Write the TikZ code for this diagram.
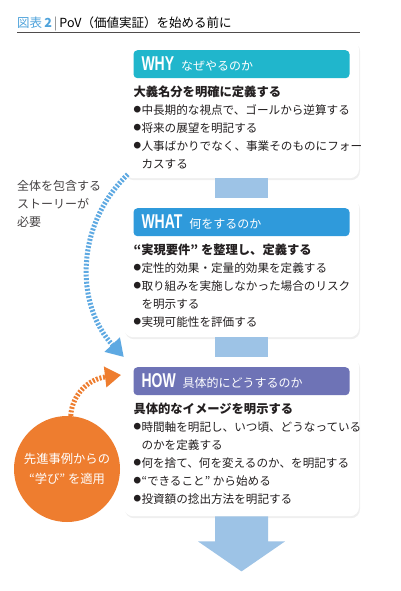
\documentclass[tikz,border=0pt]{standalone}
\usepackage{fontspec}
\setmainfont{Noto Sans CJK JP}
\newfontfamily\hdfont{Liberation Sans Bold}[FakeStretch=0.7]
\usetikzlibrary{arrows.meta,positioning,calc,shadows}

\definecolor{titleblue}{HTML}{4FA3DB}
\definecolor{whyteal}{HTML}{20B6CC}
\definecolor{whatblue}{HTML}{2F9ADB}
\definecolor{howpurple}{HTML}{6E73B6}
\definecolor{flowblue}{HTML}{9DC3E6}
\definecolor{storyblue}{HTML}{5EA9E2}
\definecolor{learnorange}{HTML}{EE7D2F}
\definecolor{textdark}{HTML}{231F20}

\newcommand\itemdot{\raisebox{1.4pt}{\fontsize{7.5}{7}\selectfont ●}\hspace{0.5pt}}
\newcommand\headline[2]{{\hdfont\fontsize{20}{20}\selectfont #1}\hspace{7pt}{\fontsize{12}{14}\selectfont #2}}

\begin{document}
\begin{tikzpicture}[x=1pt, y=-1pt,
  card/.style={fill=white, rounded corners=9pt, minimum width=235pt,
    anchor=north, drop shadow={shadow xshift=1pt, shadow yshift=-2pt, opacity=0.12}},
  headbar/.style={rounded corners=4pt, minimum width=216pt, minimum height=28pt,
    text width=200pt, inner xsep=8pt, align=left, text=white, anchor=north},
  bodytext/.style={anchor=north west, inner sep=0pt, align=left, text=textdark,
    font=\fontsize{11.6}{18}\selectfont},
  stripes/.style={line width=5pt, dash pattern=on 2pt off 1.6pt}
]
\fill[white] (0,0) rectangle (400,591);
\useasboundingbox (0,0) rectangle (400,591);

% title
\node[anchor=base west, inner sep=0pt, font=\fontsize{12.5}{14}\selectfont] (title) at (17,28)
  {{\color{titleblue}図表\,\textbf{2}}\,{\color{gray}|}\,PoV（価値実証）を始める前に};
\draw[textdark!80, line width=0.8pt] (17,32) -- (360,32);

% cards
\node[card, minimum height=138pt] (whycard) at (241.5,40) {};
\node[card, minimum height=139pt] (whatcard) at (241.5,198) {};
\node[card, minimum height=159pt] (howcard) at (241.5,357) {};

% flow between cards
\fill[flowblue] ($(whycard.south)+(-26.5,0)$) rectangle ($(whatcard.north)+(26.5,0)$);
\fill[flowblue] ($(whatcard.south)+(-26.5,0)$) rectangle ($(howcard.north)+(26.5,0)$);
\fill[flowblue] ($(howcard.south)+(-26.5,0)$) -- ++(0,25) -- ++(-17,0)
  -- ($(howcard.south)+(0,55)$) -- ($(howcard.south)+(43.5,25)$) -- ++(-17,0)
  -- ($(howcard.south)+(26.5,0)$) -- cycle;

% headers
\node[headbar, fill=whyteal] (whyhead) at ($(whycard.north)+(0,10)$) {\headline{WHY}{なぜやるのか}};
\node[headbar, fill=whatblue] (whathead) at ($(whatcard.north)+(0,10)$) {\headline{WHAT}{何をするのか}};
\node[headbar, fill=howpurple] (howhead) at ($(howcard.north)+(0,10)$) {\headline{HOW}{具体的にどうするのか}};

% card texts
\node[bodytext] (whytext) at ($(whyhead.south west)+(0,7)$) {%
  {\fontsize{12.3}{18}\selectfont\bfseries 大義名分を明確に定義する}\\
  \itemdot 中長期的な視点で、ゴールから逆算する\\
  \itemdot 将来の展望を明記する\\
  \itemdot 人事ばかりでなく、事業そのものにフォー\\
  \hspace*{8pt}カスする};
\node[bodytext] (whattext) at ($(whathead.south west)+(0,7)$) {%
  {\fontsize{12.3}{18}\selectfont\bfseries “実現要件” を整理し、定義する}\\
  \itemdot 定性的効果・定量的効果を定義する\\
  \itemdot 取り組みを実施しなかった場合のリスク\\
  \hspace*{8pt}を明示する\\
  \itemdot 実現可能性を評価する};
\node[bodytext] (howtext) at ($(howhead.south west)+(0,7)$) {%
  {\fontsize{12.3}{18}\selectfont\bfseries 具体的なイメージを明示する}\\
  \itemdot 時間軸を明記し、いつ頃、どうなっている\\
  \hspace*{8pt}のかを定義する\\
  \itemdot 何を捨て、何を変えるのか、を明記する\\
  \itemdot “できること” から始める\\
  \itemdot 投資額の捻出方法を明記する};

% story note and dashed arrow
\node[anchor=north west, inner sep=0pt, align=left, text=textdark!85,
  font=\fontsize{12}{18}\selectfont] (storynote) at (17,180) {全体を包含する\\ストーリーが\\必要};
\coordinate (storytop) at ($(whycard.south west)+(4,-4)$);
\draw[stripes, storyblue, -{Triangle[length=17pt, width=20pt]}]
  (storytop) .. controls (75,225) and (75,305) .. (howcard.north west);

% learnings circle
\node[circle, fill=learnorange, minimum size=106pt, text=white, align=center,
  font=\fontsize{12.3}{20}\selectfont] (learn) at (67,469) {先進事例からの\\“学び” を適用};
\coordinate (learntip) at (121,375);
\draw[stripes, learnorange, -{Triangle[length=16pt, width=20pt]}]
  (learn.86) .. controls (72,395) and (88,379) .. (learntip);
\end{tikzpicture}
\end{document}
